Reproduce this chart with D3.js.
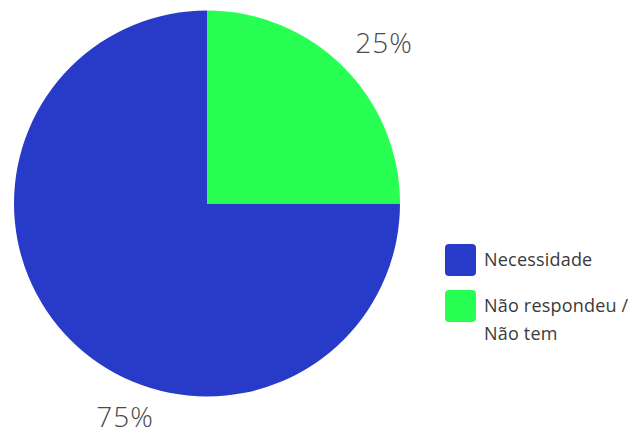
<!DOCTYPE html>
<html>
<head>
<meta charset="utf-8">
<script src="https://cdn.jsdelivr.net/npm/d3@7"></script>
<style>
  html, body { margin: 0; padding: 0; background: #fff; }
  svg { display: block; }
  text { font-family: "Open Sans", Lato, sans-serif; }
</style>
</head>
<body>
<svg id="chart" width="635" height="434"></svg>
<script>
const categories = ["Necessidade", "Não respondeu / Não tem"];
const values = [75, 25];
const valueLabels = ["75%", "25%"];
const legendLines = [["Necessidade"], ["Não respondeu /", "Não tem"]];
const colors = ["#283AC8", "#27FF52"];

const svg = d3.select("#chart");
const cx = 207, cy = 203.5, r = 193;

const pie = d3.pie().sort(null).value(d => d)
  .startAngle(Math.PI / 2).endAngle(Math.PI / 2 + 2 * Math.PI);
const arcs = pie(values);
const arc = d3.arc().innerRadius(0).outerRadius(r);

const g = svg.append("g").attr("transform", `translate(${cx},${cy})`);
g.selectAll("path").data(arcs).enter().append("path")
  .attr("d", arc)
  .attr("fill", (d, i) => colors[i]);

// percentage labels outside the slices
g.selectAll("text.val").data(arcs).enter().append("text")
  .attr("class", "val")
  .attr("x", (d, i) => i === 0 ? -82 : 177)
  .attr("y", (d, i) => i === 0 ? 223.5 : -151)
  .attr("text-anchor", "middle")
  .attr("font-size", 28)
  .attr("font-weight", 300)
  .attr("letter-spacing", 1)
  .attr("fill", "#4a4a4a")
  .text((d, i) => valueLabels[i]);

// legend
const legend = svg.append("g").attr("transform", "translate(445,244)");
const items = legend.selectAll("g").data(categories).enter().append("g")
  .attr("transform", (d, i) => `translate(0,${i * 46})`);
items.append("rect")
  .attr("width", 31).attr("height", 32).attr("rx", 4)
  .attr("fill", (d, i) => colors[i]);
items.each(function(d, i) {
  const t = d3.select(this).append("text")
    .attr("x", 39).attr("y", 22)
    .attr("font-size", 18)
    .attr("letter-spacing", 0.2)
    .attr("fill", "#3a3a3a");
  legendLines[i].forEach((line, j) => {
    t.append("tspan").attr("x", 39).attr("dy", j === 0 ? 0 : 28).text(line);
  });
});
</script>
</body>
</html>
